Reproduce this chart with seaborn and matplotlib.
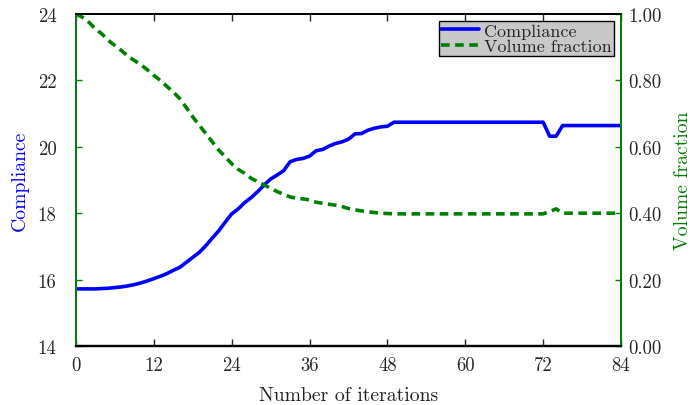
import matplotlib
matplotlib.use("Agg")
import matplotlib.pyplot as plt
import seaborn as sns
import pandas as pd

iterations = list(range(85))
compliance = [
    15.72, 15.72, 15.72, 15.72, 15.73, 15.74, 15.76, 15.78, 15.81, 15.85,
    15.90, 15.96, 16.03, 16.10, 16.18, 16.28, 16.37, 16.52, 16.67, 16.82,
    17.02, 17.25, 17.47, 17.73, 17.98, 18.13, 18.32, 18.47, 18.65, 18.85,
    19.03, 19.15, 19.28, 19.55, 19.62, 19.65, 19.72, 19.88, 19.92, 20.02,
    20.10, 20.15, 20.23, 20.39, 20.40, 20.50, 20.56, 20.60, 20.62, 20.74,
    20.74, 20.74, 20.74, 20.74, 20.74, 20.74, 20.74, 20.74, 20.74, 20.74,
    20.74, 20.74, 20.74, 20.74, 20.74, 20.74, 20.74, 20.74, 20.74, 20.74,
    20.74, 20.74, 20.74, 20.32, 20.32, 20.64, 20.64, 20.64, 20.64, 20.64,
    20.64, 20.64, 20.64, 20.64, 20.64,
]
volume_fraction = [
    1.000, 0.990, 0.975, 0.955, 0.940, 0.920, 0.905, 0.890, 0.873, 0.860,
    0.847, 0.832, 0.815, 0.800, 0.782, 0.765, 0.745, 0.718, 0.690, 0.665,
    0.640, 0.615, 0.590, 0.570, 0.549, 0.532, 0.520, 0.505, 0.495, 0.485,
    0.475, 0.465, 0.457, 0.449, 0.445, 0.443, 0.440, 0.433, 0.430, 0.427,
    0.424, 0.420, 0.414, 0.410, 0.407, 0.404, 0.402, 0.400, 0.399, 0.398,
    0.398, 0.398, 0.398, 0.398, 0.398, 0.398, 0.398, 0.398, 0.398, 0.398,
    0.398, 0.398, 0.398, 0.398, 0.398, 0.398, 0.398, 0.398, 0.398, 0.398,
    0.398, 0.398, 0.398, 0.405, 0.413, 0.400, 0.400, 0.400, 0.400, 0.400,
    0.400, 0.400, 0.400, 0.400, 0.400,
]
x_ticks = [0, 12, 24, 36, 48, 60, 72, 84]
left_ticks = [14, 16, 18, 20, 22, 24]
left_tick_labels = ["14", "16", "18", "20", "22", "24"]
right_ticks = [0.0, 0.2, 0.4, 0.6, 0.8, 1.0]
right_tick_labels = ["0.00", "0.20", "0.40", "0.60", "0.80", "1.00"]

sns.set_style("ticks")
plt.rcParams["font.family"] = ["cmr10", "DejaVu Serif"]
plt.rcParams["axes.formatter.use_mathtext"] = True
plt.rcParams["axes.unicode_minus"] = False

df = pd.DataFrame({"it": iterations, "c": compliance, "v": volume_fraction})

BLUE = "#0000ff"
GREEN = "#008000"

fig = plt.figure(figsize=(6.94, 4.06), dpi=100)
ax = fig.add_axes([76 / 694, 1 - 347 / 406, (621 - 76) / 694, (347 - 15) / 406])
sns.lineplot(data=df, x="it", y="c", ax=ax, color=BLUE, lw=2.6, label="Compliance", legend=False)
ax2 = ax.twinx()
sns.lineplot(data=df, x="it", y="v", ax=ax2, color=GREEN, lw=2.6, label="Volume fraction",
             legend=False, linestyle=(0, (2.4, 1.5)))

ax.set_xlim(0, 84)
ax.set_ylim(14, 24)
ax2.set_ylim(0, 1)
ax.set_xticks(x_ticks)
ax.set_xticklabels([str(t) for t in x_ticks])
ax.set_yticks(left_ticks)
ax.set_yticklabels(left_tick_labels)
ax2.set_yticks(right_ticks)
ax2.set_yticklabels(right_tick_labels)

ax.tick_params(axis="x", direction="in", top=True, length=5, width=1, labelsize=13.5, pad=7)
ax.tick_params(axis="y", direction="in", length=4, width=1, color=GREEN, labelsize=13.5, pad=14)
ax2.tick_params(axis="y", direction="in", length=4, width=1, color=GREEN, labelsize=13.5, pad=5)

for a in (ax, ax2):
    a.spines["top"].set_visible(True)
    a.spines["right"].set_visible(True)
    a.spines["top"].set_color("black")
    a.spines["bottom"].set_color("black")
    a.spines["top"].set_linewidth(1.3)
    a.spines["bottom"].set_linewidth(1.6)
    a.spines["left"].set_color(GREEN)
    a.spines["right"].set_color(GREEN)
    a.spines["left"].set_linewidth(1.3)
    a.spines["right"].set_linewidth(1.3)

ax.set_xlabel("Number of iterations", fontsize=14.2, color="#222222", labelpad=9)
ax.set_ylabel("Compliance", fontsize=14.2, color=BLUE, labelpad=6)
ax2.set_ylabel("Volume fraction", fontsize=14.2, color=GREEN, labelpad=9)

h1, l1 = ax.get_legend_handles_labels()
h2, l2 = ax2.get_legend_handles_labels()
leg = ax2.legend(h1 + h2, l1 + l2, loc="upper right", fontsize=13, frameon=True,
                 fancybox=False, framealpha=1, facecolor="#c8c8c8", edgecolor="black",
                 borderpad=0.1, labelspacing=0.0, handlelength=2.1, handletextpad=0.3,
                 borderaxespad=0.4)
leg.get_frame().set_linewidth(1.0)

fig.savefig("out.png", dpi=100)
